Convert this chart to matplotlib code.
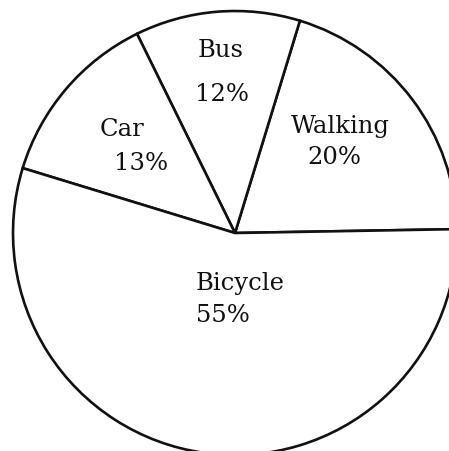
import matplotlib
matplotlib.use('Agg')
import matplotlib.pyplot as plt

modes = ['Walking', 'Bus', 'Car', 'Bicycle']
shares = [20, 12, 13, 55]

# label anchor points (data coords, pie radius = 1)
name_xy = [(0.473, 0.455), (-0.063, 0.797), (-0.509, 0.441), (-0.176, -0.252)]
pct_xy = [(0.446, 0.315), (-0.059, 0.599), (-0.423, 0.288), (-0.176, -0.396)]
aligns = ['center', 'center', 'center', 'left']

plt.rcParams['font.family'] = ['DejaVu Serif']

fig = plt.figure(figsize=(4.49, 4.52), dpi=100)
ax = fig.add_axes([0, 0, 1, 1])
ax.pie(shares, startangle=1, counterclock=True,
       colors=['white'] * len(shares),
       wedgeprops=dict(edgecolor='#111111', linewidth=1.9))

for name, v, nxy, pxy, ha in zip(modes, shares, name_xy, pct_xy, aligns):
    ax.text(nxy[0], nxy[1], name, ha=ha, va='baseline', fontsize=17.5, color='#111111')
    ax.text(pxy[0], pxy[1], f'{v}%', ha=ha, va='baseline', fontsize=17.5, color='#111111')

ax.set_aspect('auto')
ax.set_xlim(-1.0586, 0.9640)
ax.set_ylim(-0.982, 1.0541)
ax.axis('off')

plt.savefig('out.png', dpi=100)
